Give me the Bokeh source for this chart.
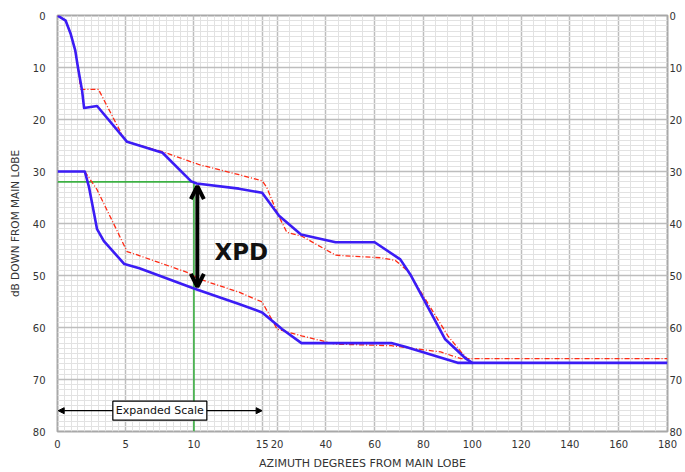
import numpy as np
from bokeh.plotting import figure
from bokeh.models import (Range1d, FixedTicker, LinearAxis, Arrow, OpenHead,
                          NormalHead, Label)
from bokeh.embed import file_html
from bokeh.resources import INLINE

# ---------------- data (azimuth in degrees, level in dB down) ----------------
co_upper_deg = [0, 0.6, 0.95, 1.3, 1.5, 1.8, 1.95, 2.9, 5.1, 7.7, 9.8, 10.2,
                13.3, 15.0, 20.8, 29.8, 44, 60, 70.5, 74.6, 88.8, 97.4, 100, 180]
co_upper_db = [0, 1.0, 3.4, 6.7, 10.0, 14.4, 17.8, 17.4, 24.3, 26.4, 31.9, 32.3,
               33.3, 34.1, 38.5, 42.1, 43.6, 43.6, 46.9, 49.8, 62.2, 66.0, 66.8, 66.8]

spec_upper_deg = [0, 0.6, 0.95, 1.3, 1.5, 1.7, 3.0, 4.8, 5.1, 7.7, 10.4, 13.3,
                  15.0, 16.5, 20, 24, 30, 44, 62.7, 68.5, 73.7, 90, 95.4, 98, 180]
spec_upper_db = [0, 1.0, 3.4, 6.7, 10.0, 14.2, 14.2, 23.3, 24.3, 26.2, 28.7, 30.6,
                 31.8, 33.0, 37.9, 41.7, 42.4, 46.1, 46.6, 47.1, 49.2, 61.6, 64.7, 66.0, 66.0]

cross_lower_deg = [0, 2.0, 2.3, 2.9, 3.4, 4.9, 6.0, 10.0, 13.3, 15.0, 22, 30,
                   66.8, 72.5, 94, 100]
cross_lower_db = [30.0, 30.0, 32.9, 41.1, 43.4, 47.8, 48.6, 52.5, 55.5, 57.1, 60.3,
                  63.0, 63.0, 63.7, 66.8, 66.8]

spec_lower_deg = [2.0, 2.9, 4.2, 5.1, 5.8, 9.5, 10.4, 13.3, 15.0, 20, 30, 44,
                  66.8, 87, 95.4, 98]
spec_lower_db = [30.0, 33.5, 40.5, 45.4, 46.0, 49.4, 50.7, 53.2, 55.1, 60.3, 61.6,
                 63.2, 63.5, 64.7, 66.0, 66.0]

xpd_azimuth = 10.0
xpd_co_level = 32.0
xpd_arrow_top = 32.4
xpd_arrow_bottom = 52.6
expanded_limit = 15.0
expanded_marker_level = 76.0

x_tick_deg = [0, 5, 10, 15, 20, 40, 60, 80, 100, 120, 140, 160, 180]
x_tick_labels = ["0", "5", "10", "15", "20", "40", "60", "80", "100", "120",
                 "140", "160", "180"]
y_ticks = [0, 10, 20, 30, 40, 50, 60, 70, 80]

# -------- piecewise azimuth scale (expanded 0-15, compressed 20-180) --------
DEG_KNOTS = [0, 15, 20, 180]
U_KNOTS = [0, 206, 221, 614]


def xu(d):
    return np.interp(np.asarray(d, dtype=float), DEG_KNOTS, U_KNOTS)


x_minor_deg = list(np.arange(0, 15, 0.5)) + [17.5] + list(np.arange(20, 180, 5))
x_tick_u = [float(v) for v in xu(x_tick_deg)]
x_minor_u = [float(v) for v in xu(x_minor_deg)]

p = figure(width=685, height=472, x_range=Range1d(0, 614), y_range=Range1d(80, 0),
           output_backend="svg", toolbar_location=None,
           min_border_left=57, min_border_top=15, min_border_right=14,
           min_border_bottom=39)
p.background_fill_color = "white"
p.border_fill_color = "white"
p.outline_line_color = "#a8a8a8"
p.outline_line_width = 2

xt = FixedTicker(ticks=x_tick_u, minor_ticks=x_minor_u)
yt = FixedTicker(ticks=y_ticks, minor_ticks=list(range(0, 81)))
p.xaxis.ticker = xt
p.yaxis.ticker = yt
p.xgrid.ticker = xt
p.ygrid.ticker = yt
p.xaxis.major_label_overrides = {u: lab for u, lab in zip(x_tick_u, x_tick_labels)}

for g in (p.xgrid, p.ygrid):
    g.grid_line_color = "#bdbdbd"
    g.grid_line_width = 1.5
    g.minor_grid_line_color = "#e2e2e2"
    g.minor_grid_line_width = 1

tick_font = "DejaVu Sans"
for ax in (p.xaxis, p.yaxis):
    ax.axis_line_color = None
    ax.major_tick_line_color = None
    ax.minor_tick_line_color = None
    ax.major_tick_out = 0
    ax.major_tick_in = 0
    ax.minor_tick_out = 0
    ax.major_label_text_font = tick_font
    ax.major_label_text_font_size = "10px"
    ax.major_label_text_color = "#333333"
    ax.axis_label_text_font = tick_font
    ax.axis_label_text_font_style = "normal"
    ax.axis_label_text_color = "#333333"

p.xaxis.axis_label = "AZIMUTH DEGREES FROM MAIN LOBE"
p.xaxis.axis_label_text_font_size = "11px"
p.xaxis.major_label_standoff = 8
p.xaxis.axis_label_standoff = 6
p.yaxis.axis_label = "dB DOWN FROM MAIN LOBE"
p.yaxis.axis_label_text_font_size = "10.5px"
p.yaxis.major_label_standoff = 12
p.yaxis.axis_label_standoff = 9

right = LinearAxis(ticker=yt, axis_line_color=None, major_tick_line_color=None,
                   minor_tick_line_color=None, major_tick_out=0, major_tick_in=0,
                   minor_tick_out=0, major_label_standoff=2,
                   major_label_text_font=tick_font,
                   major_label_text_font_size="10px",
                   major_label_text_color="#333333")
p.add_layout(right, "right")

blue = "#3b1cf5"
red = "#ff2a14"

# green XPD reading lines
p.line(xu([0, xpd_azimuth]), [xpd_co_level, xpd_co_level], line_color="#3cb043",
       line_width=1.6)
p.line(xu([xpd_azimuth, xpd_azimuth]), [xpd_co_level, 80], line_color="#3cb043",
       line_width=1.6)

# specification (red dashed) and measured (blue) envelopes
p.line(xu(spec_upper_deg), spec_upper_db, line_color=red, line_width=1.3,
       line_dash="5 2 1 2")
p.line(xu(spec_lower_deg), spec_lower_db, line_color=red, line_width=1.3,
       line_dash="5 2 1 2")
p.line(xu(co_upper_deg), co_upper_db, line_color=blue, line_width=2.6,
       line_join="round")
p.line(xu(cross_lower_deg), cross_lower_db, line_color=blue, line_width=2.6,
       line_join="round")

# XPD double arrow
xa = float(xu(xpd_azimuth + 0.25))
p.add_layout(Arrow(x_start=xa, y_start=xpd_arrow_bottom - 0.4, x_end=xa,
                   y_end=xpd_arrow_top + 0.4,
                   start=OpenHead(size=13, line_width=4, line_color="black"),
                   end=OpenHead(size=13, line_width=4, line_color="black"),
                   line_width=4, line_color="black"))
p.add_layout(Label(x=float(xu(11.5)), y=45.4, text="XPD", text_font="DejaVu Sans",
                   text_font_style="bold", text_font_size="23px",
                   text_color="#111111", text_baseline="alphabetic"))

# Expanded scale marker
p.add_layout(Arrow(x_start=float(xu(0.05)), y_start=expanded_marker_level,
                   x_end=float(xu(expanded_limit)), y_end=expanded_marker_level,
                   start=NormalHead(size=6, fill_color="black", line_color="black"),
                   end=NormalHead(size=6, fill_color="black", line_color="black"),
                   line_width=1.2, line_color="black"))
p.add_layout(Label(x=float(xu(expanded_limit / 2)), y=expanded_marker_level,
                   text="Expanded Scale", text_align="center",
                   text_baseline="middle", text_font="DejaVu Sans",
                   text_font_size="11px", text_color="#111111",
                   background_fill_color="white", border_line_color="black",
                   border_line_width=1.2, padding=3))

open("out.html", "w").write(file_html(p, INLINE))
